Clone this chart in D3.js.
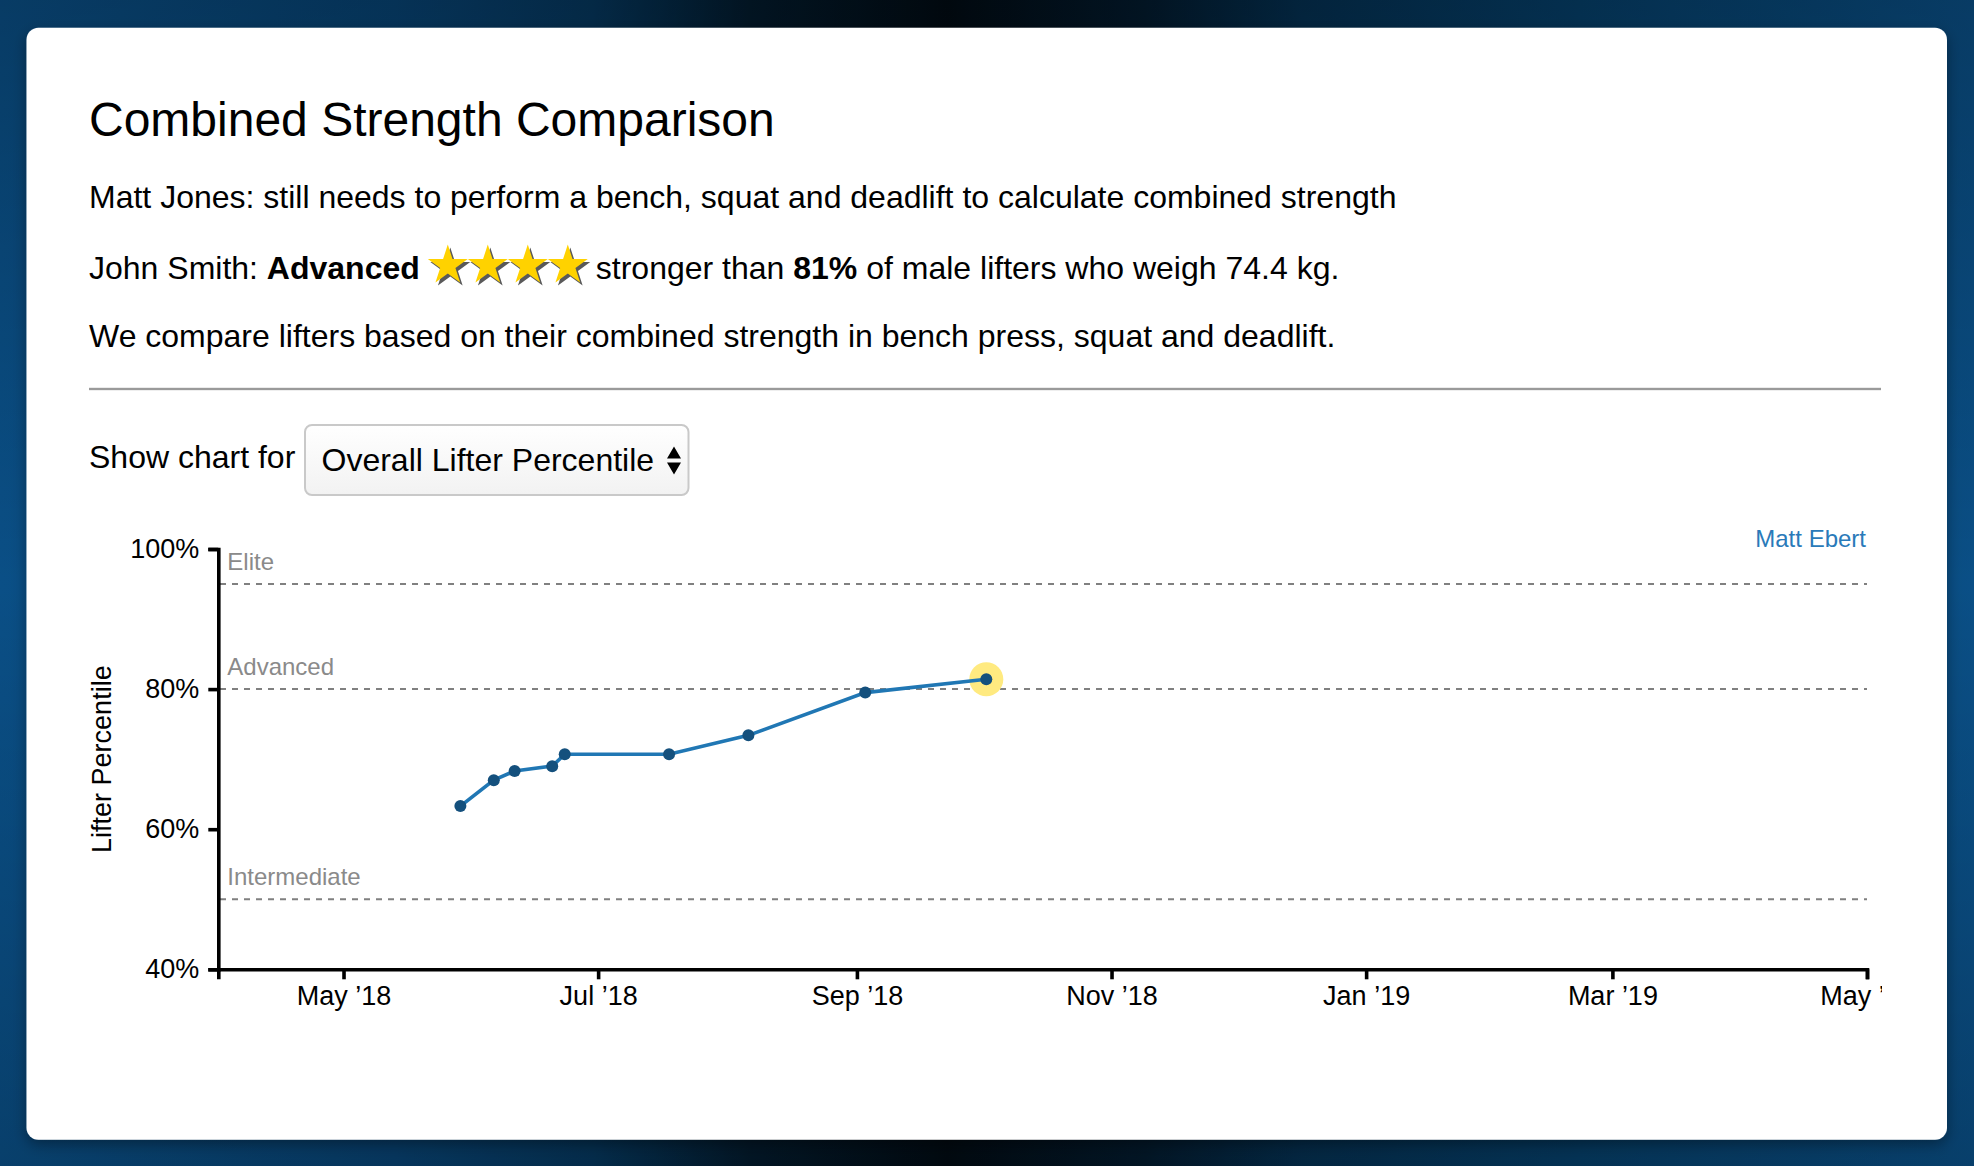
<!DOCTYPE html>
<html><head><meta charset="utf-8">
<script src="https://cdn.jsdelivr.net/npm/d3@7"></script>
<style>
html,body{margin:0;padding:0;width:1974px;height:1166px;overflow:hidden;background:#05406c;}
svg{display:block;font-family:"Liberation Sans",Arial,Helvetica,sans-serif;}
</style></head><body><svg id="c" width="1974" height="1166"></svg>
<script>
// ---- data ----
const dates = ["2018-05-29","2018-06-06","2018-06-11","2018-06-20","2018-06-23","2018-07-18","2018-08-06","2018-09-03","2018-10-02"];
const percentiles = [63.3, 67.0, 68.3, 69.0, 70.7, 70.7, 73.4, 79.5, 81.4];
const levelNames = ["Elite", "Advanced", "Intermediate"];
const levelValues = [95, 80, 50];
const yTickValues = [40, 60, 80, 100];
const xDomain = ["2018-04-01", "2019-05-01"];
const lifterName = "Matt Ebert";
const starCount = 4;
const titleText = "Combined Strength Comparison";
const line1Text = "Matt Jones: still needs to perform a bench, squat and deadlift to calculate combined strength";
const line3Text = "We compare lifters based on their combined strength in bench press, squat and deadlift.";
const selectLabel = "Show chart for";
const selectValue = "Overall Lifter Percentile";

const parse = d3.timeParse("%Y-%m-%d");
const data = dates.map((d, i) => ({date: parse(d), value: percentiles[i]}));

const svg = d3.select("#c");
const defs = svg.append("defs");

// background
const bg = defs.append("linearGradient").attr("id","bg").attr("x1","0").attr("x2","1").attr("y1","0").attr("y2","0");
[["0%","#0a4f86"],["20%","#074272"],["30%","#05365c"],["38%","#021a2c"],["48%","#010b13"],["58%","#021a2d"],["66%","#042f50"],["80%","#053e68"],["100%","#0a4f86"]]
  .forEach(([o,c]) => bg.append("stop").attr("offset",o).attr("stop-color",c));
svg.append("rect").attr("width",1974).attr("height",1166).attr("fill","url(#bg)");
const vg = defs.append("linearGradient").attr("id","vg").attr("x1","0").attr("x2","0").attr("y1","0").attr("y2","1");
vg.append("stop").attr("offset","0%").attr("stop-color","#000").attr("stop-opacity",0.25);
vg.append("stop").attr("offset","50%").attr("stop-color","#000").attr("stop-opacity",0);
vg.append("stop").attr("offset","100%").attr("stop-color","#000").attr("stop-opacity",0.2);
svg.append("rect").attr("width",1974).attr("height",1166).attr("fill","url(#vg)");

// card
const sh = defs.append("filter").attr("id","sh").attr("x","-5%").attr("y","-5%").attr("width","110%").attr("height","115%");
sh.append("feDropShadow").attr("dx",0).attr("dy",5).attr("stdDeviation",7).attr("flood-color","#000").attr("flood-opacity",0.35);
svg.append("rect").attr("x",26.5).attr("y",27.7).attr("width",1920.5).attr("height",1112).attr("rx",12)
  .attr("fill","#fff").attr("filter","url(#sh)");

// header text
svg.append("text").attr("x",89).attr("y",136).attr("font-size",48).attr("fill","#000").text(titleText);
svg.append("text").attr("x",89).attr("y",207.7).attr("font-size",32).attr("fill","#000").text(line1Text);

const l2a = svg.append("text").attr("x",89).attr("y",279.3).attr("font-size",32).attr("fill","#000");
l2a.append("tspan").text("John Smith: ");
l2a.append("tspan").attr("font-weight","bold").text("Advanced");
const l2aEnd = 89 + l2a.node().getComputedTextLength();

// stars
const starX0 = l2aEnd + 8;
const R = 21, r = R * 0.382;
function starPath(cx, cy) {
  const pts = d3.range(10).map(i => {
    const a = -Math.PI / 2 + i * Math.PI / 5;
    const rr = i % 2 ? r : R;
    return [cx + rr * Math.cos(a), cy + rr * Math.sin(a)];
  });
  return d3.line()(pts) + "Z";
}
const starG = svg.append("g");
d3.range(starCount).forEach(i => {
  const cx = starX0 + 20 + i * 40, cy = 265.5;
  starG.append("path").attr("d", starPath(cx + 2.5, cy + 3)).attr("fill","#5a5a5a");
});
d3.range(starCount).forEach(i => {
  const cx = starX0 + 20 + i * 40, cy = 265.5;
  starG.append("path").attr("d", starPath(cx, cy)).attr("fill","#ffd200");
});
const starEnd = starX0 + starCount * 40;

const l2b = svg.append("text").attr("x", starEnd + 8).attr("y",279.3).attr("font-size",32).attr("fill","#000");
l2b.append("tspan").text("stronger than ");
l2b.append("tspan").attr("font-weight","bold").text("81%");
l2b.append("tspan").text(" of male lifters who weigh 74.4 kg.");

svg.append("text").attr("x",89).attr("y",347.3).attr("font-size",32).attr("fill","#000").text(line3Text);

// hr
svg.append("rect").attr("x",89).attr("y",387.8).attr("width",1792).attr("height",2.2).attr("fill","#9a9a9a");
svg.append("rect").attr("x",89).attr("y",390).attr("width",1792).attr("height",1).attr("fill","#eeeeee");

// select
svg.append("text").attr("x",89).attr("y",468.3).attr("font-size",32).attr("fill","#000").text(selectLabel);
const sg = defs.append("linearGradient").attr("id","sg").attr("x1","0").attr("x2","0").attr("y1","0").attr("y2","1");
sg.append("stop").attr("offset","0%").attr("stop-color","#ffffff");
sg.append("stop").attr("offset","100%").attr("stop-color","#f2f2f2");
svg.append("rect").attr("x",305).attr("y",425).attr("width",383.5).attr("height",70).attr("rx",7)
  .attr("fill","url(#sg)").attr("stroke","#c9c9c9").attr("stroke-width",2);
svg.append("text").attr("x",321.5).attr("y",470.5).attr("font-size",32).attr("fill","#000").text(selectValue);
svg.append("path").attr("d","M667,458.5 L674,446.5 L681,458.5 Z M667,462.5 L681,462.5 L674,474.5 Z").attr("fill","#000");

// ---- chart ----
const clip = defs.append("clipPath").attr("id","cc");
clip.append("rect").attr("x",60).attr("y",500).attr("width",1882-60).attr("height",560);
const g = svg.append("g").attr("clip-path","url(#cc)");

const x = d3.scaleTime().domain(xDomain.map(parse)).range([218.3, 1867]);
const y = d3.scaleLinear().domain([40, 100]).range([969.3, 549]);

// level lines
levelValues.forEach((v, i) => {
  g.append("line").attr("x1", 220).attr("x2", 1867).attr("y1", y(v)).attr("y2", y(v))
    .attr("stroke","#808080").attr("stroke-width",2).attr("stroke-dasharray","6,6");
  g.append("text").attr("x", 227.3).attr("y", y(v) - 14.3).attr("font-size",24).attr("fill","#8a8a8a").text(levelNames[i]);
});

// legend name
g.append("text").attr("x",1866).attr("y",547.3).attr("text-anchor","end").attr("font-size",24).attr("fill","#2a7ab9").text(lifterName);

// highlight last
const last = data[data.length - 1];
g.append("circle").attr("cx", x(last.date)).attr("cy", y(last.value)).attr("r",17).attr("fill","#ffea80");

// line
g.append("path").datum(data)
  .attr("d", d3.line().x(d => x(d.date)).y(d => y(d.value)))
  .attr("fill","none").attr("stroke","#2077b4").attr("stroke-width",3.6);

g.selectAll("circle.pt").data(data).join("circle").attr("class","pt")
  .attr("cx", d => x(d.date)).attr("cy", d => y(d.value)).attr("r",6).attr("fill","#14507d");

// axes
const xAxis = d3.axisBottom(x).ticks(d3.timeMonth.every(2)).tickFormat(d3.timeFormat("%b \u2019%y"))
  .tickSize(10).tickSizeOuter(10).tickPadding(7);
const gx = g.append("g").attr("transform",`translate(0,${y(40)})`).call(xAxis);
const yAxis = d3.axisLeft(y).tickValues(yTickValues).tickFormat(d => d + "%")
  .tickSize(10).tickSizeOuter(10).tickPadding(9);
const gy = g.append("g").attr("transform",`translate(${x.range()[0]},0)`).call(yAxis);
[gx, gy].forEach(a => {
  a.attr("font-family", null).attr("font-size", 27);
  a.selectAll("text").attr("fill","#000");
  a.select(".domain").attr("stroke","#000").attr("stroke-width",3.6);
  a.selectAll(".tick line").attr("stroke","#000").attr("stroke-width",3.6);
});

g.append("text").attr("transform",`translate(110.5,${(y(40)+y(100))/2}) rotate(-90)`)
  .attr("text-anchor","middle").attr("font-size",27).attr("fill","#000").text("Lifter Percentile");
</script></body></html>
